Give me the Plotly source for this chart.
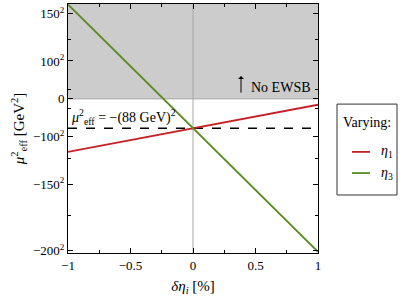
import plotly.graph_objects as go

# Data
delta_eta = [-1.0, 1.0]            # δη_i [%]
mu2_eta1 = [-13950.0, -1540.0]     # μ²_eff [GeV²] varying η1
mu2_eta3 = [24900.0, -40300.0]     # μ²_eff [GeV²] varying η3
mu2_ref = -(88.0 ** 2)             # reference −(88 GeV)²

y_major_roots = [150, 100, 0, -100, -150, -200]
y_minor_roots = [125, 50, -50, -125, -175]
x_major = [-1, -0.5, 0, 0.5, 1]
x_major_text = ["−1", "−0.5", "0", "0.5", "1"]
x_minor = [-0.75, -0.25, 0.25, 0.75]
legend_names = ["<i>η</i><sub>1</sub>", "<i>η</i><sub>3</sub>"]

def signed_sq(r):
    return r * abs(r)

def sq_label(r):
    if r == 0:
        return "0"
    s = "−" if r < 0 else ""
    return f"{s}{abs(r)}<sup>2</sup>"

y_major_vals = [signed_sq(r) for r in y_major_roots]
y_major_text = [sq_label(r) for r in y_major_roots]
y_minor_vals = [signed_sq(r) for r in y_minor_roots]

FONT = "Liberation Serif"
RED = "#c42127"
GREEN = "#5a8a22"
colors = [RED, GREEN]

fig = go.Figure()

fig.add_trace(go.Scatter(
    x=delta_eta, y=[mu2_ref, mu2_ref], mode="lines",
    line=dict(color="black", width=1.6, dash="dash"),
    showlegend=False, hoverinfo="skip"))
for ys, nm, c in zip([mu2_eta1, mu2_eta3], legend_names, colors):
    fig.add_trace(go.Scatter(
        x=delta_eta, y=ys, mode="lines", name=nm,
        line=dict(color=c, width=1.8), showlegend=False))

y_lo, y_hi = -40600, 25000

fig.add_shape(type="rect", xref="paper", yref="y", x0=0, x1=1, y0=0, y1=y_hi,
              fillcolor="#cccccc", line=dict(width=0), layer="below")
fig.add_shape(type="line", xref="paper", yref="y", x0=0, x1=0.9999, y0=0, y1=0,
              line=dict(color="#a8a8a8", width=1), layer="below")
fig.add_shape(type="line", xref="x", yref="paper", x0=0, x1=0, y0=0, y1=1,
              line=dict(color="#a8a8a8", width=1), layer="below")

fig.add_annotation(x=-0.99, y=mu2_ref, xref="x", yref="y", xanchor="left", yanchor="bottom",
                   text="<i>μ</i><sup>2</sup><sub>eff</sub> = −(88 GeV)<sup>2</sup>",
                   showarrow=False, font=dict(family=FONT, size=14, color="black"), yshift=-1)
# "No EWSB" label with a thin upward arrow
fig.add_annotation(x=0.384, y=6000, xref="x", yref="y", text="", showarrow=True,
                   ax=0, ay=18, arrowhead=1, arrowsize=1, arrowwidth=1, arrowcolor="black",
                   standoff=0, startstandoff=0)
fig.add_annotation(x=0.45, y=0, xref="x", yref="y", xanchor="left", yanchor="bottom",
                   text="No EWSB", showarrow=False, yshift=2,
                   font=dict(family=FONT, size=14, color="black"))

# Legend (drawn in paper coordinates)
fig.add_shape(type="rect", xref="paper", yref="paper", x0=1.076, x1=1.316, y0=0.233, y1=0.598,
              line=dict(color="#333333", width=1), fillcolor="white")
fig.add_annotation(x=1.196, y=0.526, xref="paper", yref="paper", text="Varying:",
                   showarrow=False, xanchor="center", yanchor="middle",
                   font=dict(family=FONT, size=14, color="black"))
for i, (nm, c) in enumerate(zip(legend_names, colors)):
    yy = 0.406 - i * 0.085
    fig.add_shape(type="line", xref="paper", yref="paper", x0=1.136, x1=1.208, y0=yy, y1=yy,
                  line=dict(color=c, width=1.8))
    fig.add_annotation(x=1.245, y=yy, xref="paper", yref="paper", text=nm,
                       showarrow=False, xanchor="left", yanchor="middle",
                       font=dict(family=FONT, size=14, color="black"))

axis_common = dict(showline=True, linecolor="black", linewidth=1, mirror="ticks",
                   ticks="inside", ticklen=5, tickcolor="black", showgrid=False,
                   zeroline=False, automargin=False,
                   tickfont=dict(family=FONT, size=13, color="black"))

fig.update_xaxes(range=[-1, 1], tickmode="array", tickvals=x_major, ticktext=x_major_text,
                 minor=dict(tickmode="array", tickvals=x_minor, ticks="inside", ticklen=3,
                            tickcolor="black"),
                 title=dict(text="<i>δη</i><sub><i>i</i></sub> [%]",
                            font=dict(family=FONT, size=15, color="black"), standoff=8),
                 **axis_common)
fig.update_yaxes(range=[y_lo, y_hi], tickmode="array", tickvals=y_major_vals, ticktext=y_major_text,
                 minor=dict(tickmode="array", tickvals=y_minor_vals, ticks="inside", ticklen=3,
                            tickcolor="black"),
                 title=dict(text="<i>μ</i><sup>2</sup><sub>eff</sub> [GeV<sup>2</sup>]",
                            font=dict(family=FONT, size=15, color="black"), standoff=4),
                 **axis_common)

fig.update_layout(
    width=407, height=298,
    margin=dict(l=68, r=89, t=4, b=45),
    paper_bgcolor="white", plot_bgcolor="white",
    font=dict(family=FONT, size=13, color="black"),
    showlegend=False,
)

fig.write_html("out.html", config={"displayModeBar": False},
               post_script="document.body.style.margin='0';document.body.style.overflow='hidden';")
